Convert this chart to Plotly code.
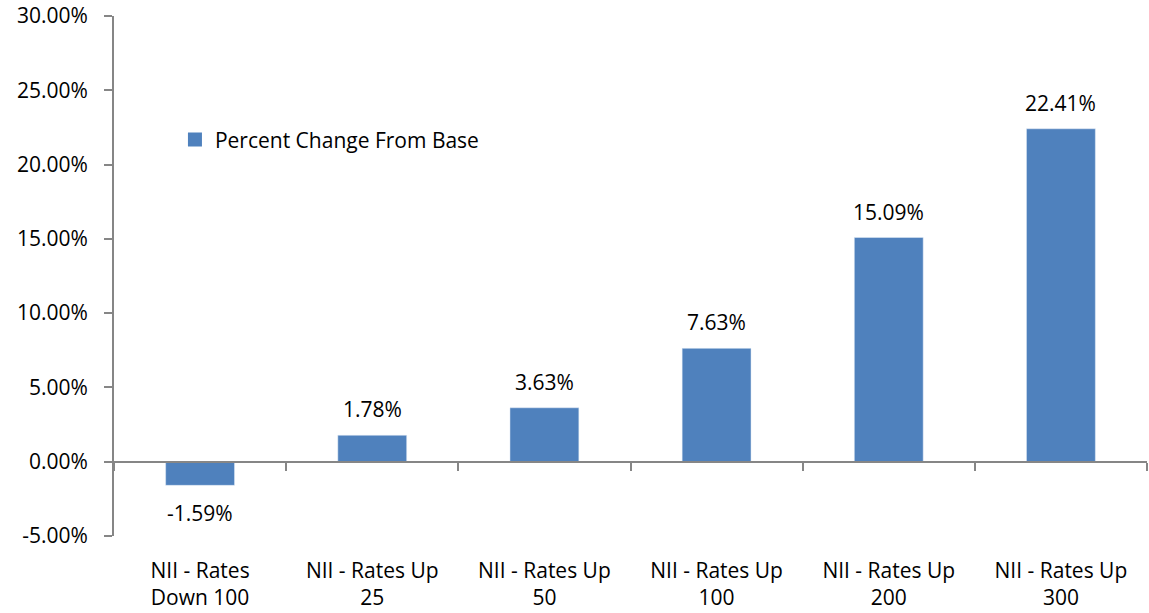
import plotly.graph_objects as go

categories = ["NII - Rates<br>Down 100", "NII - Rates Up<br>25", "NII - Rates Up<br>50",
              "NII - Rates Up<br>100", "NII - Rates Up<br>200", "NII - Rates Up<br>300"]
values = [-1.59, 1.78, 3.63, 7.63, 15.09, 22.41]
labels = ["-1.59%", "1.78%", "3.63%", "7.63%", "15.09%", "22.41%"]
y_ticks = [-5, 0, 5, 10, 15, 20, 25, 30]
y_tick_text = ["-5.00%", "0.00%", "5.00%", "10.00%", "15.00%", "20.00%", "25.00%", "30.00%"]
series_name = "Percent Change From Base"

FONT = "Open Sans"
FS = 21
AX = "#868686"
BAR = "#4F81BD"

fig = go.Figure()
fig.add_trace(go.Bar(x=categories, y=values, name=series_name, marker_color=BAR,
                     width=0.4, xaxis="x", yaxis="y", showlegend=False))
# legend entry (square swatch)
fig.add_trace(go.Scatter(x=[categories[0]], y=[None], mode="markers", name=series_name,
                         marker=dict(symbol="square", size=14, color=BAR),
                         xaxis="x", yaxis="y", showlegend=True, hoverinfo="skip"))
# helper for bottom labels axis
fig.add_trace(go.Bar(x=categories, y=[None]*len(categories), xaxis="x2", yaxis="y",
                     showlegend=False, hoverinfo="skip"))

for c, v, t in zip(categories, values, labels):
    fig.add_annotation(x=c, y=v, text=t, showarrow=False, xref="x", yref="y",
                       yanchor="middle", yshift=26 if v >= 0 else -28,
                       font=dict(family=FONT, size=FS, color="#000000"))

fig.update_layout(
    width=1149, height=613,
    margin=dict(l=114, r=2, t=16, b=77),
    paper_bgcolor="white", plot_bgcolor="white",
    font=dict(family=FONT, size=FS, color="#000000"),
    bargap=0.6,
    legend=dict(x=0.059, y=0.762, xanchor="left", yanchor="middle",
                bgcolor="rgba(0,0,0,0)", font=dict(family=FONT, size=FS)),
    xaxis=dict(type="category", categoryarray=categories, anchor="free",
               position=5/35, showline=True, linecolor=AX, linewidth=2,
               ticks="outside", ticklen=8, tickcolor=AX, tickwidth=2,
               tickson="boundaries", showticklabels=False, showgrid=False,
               zeroline=False, range=[-0.5, 5.5], automargin=False),
    xaxis2=dict(type="category", categoryarray=categories, overlaying="x",
                anchor="y", side="bottom", showline=False, ticks="",
                showticklabels=True, showgrid=False, zeroline=False,
                range=[-0.5, 5.5], ticklabelstandoff=20, automargin=False,
                tickfont=dict(family=FONT, size=FS)),
    yaxis=dict(range=[-5, 30], tickvals=y_ticks, ticktext=y_tick_text,
               showline=True, linecolor=AX, linewidth=2, ticks="outside",
               ticklen=8, tickcolor=AX, tickwidth=2, showgrid=False,
               zeroline=False, ticklabelstandoff=12, automargin=False,
               tickfont=dict(family=FONT, size=FS)),
)

fig.write_html("out.html", config={"displayModeBar": False},
               post_script="document.body.style.margin='0';")
